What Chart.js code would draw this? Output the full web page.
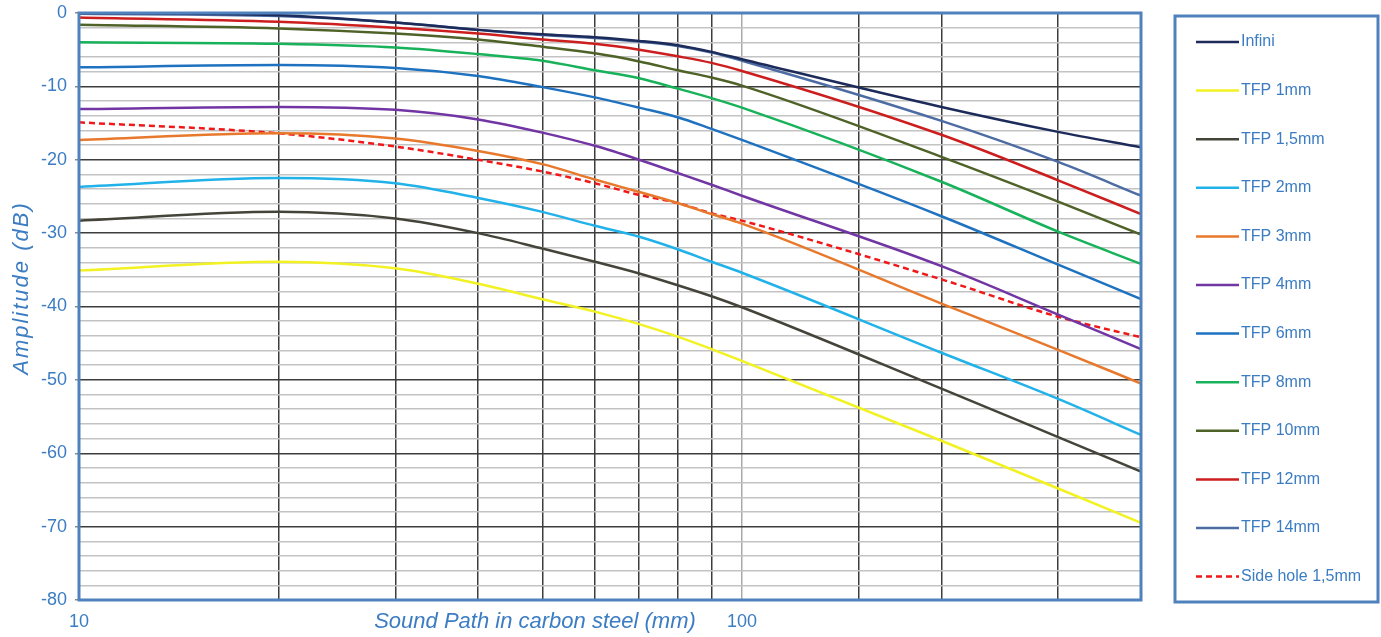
<!DOCTYPE html>
<html>
<head>
<meta charset="utf-8">
<title>Amplitude vs sound path</title>
<script src="https://cdn.jsdelivr.net/npm/chart.js@4.4.1/dist/chart.umd.min.js"></script>
<style>
  html, body { margin: 0; padding: 0; background: #fff; }
  #wrap { width: 1381px; height: 637px; position: relative; }
</style>
</head>
<body>
<div id="wrap"><canvas id="amp-chart"></canvas></div>
<script>
// ── DATA ───────────────────────────────────────
const pathMm = [10, 20, 30, 40, 50, 60, 70, 80, 90, 100, 200, 300, 400];

const infini   = [0, -0.3, -1.3, -2.3, -2.9, -3.3, -3.8, -4.4, -5.3, -6.3, -12.8, -16.2, -18.3];
const tfp1     = [-35.1, -33.9, -34.8, -36.9, -39.0, -40.7, -42.4, -44.1, -45.8, -47.4, -58.3, -64.8, -69.5];
const tfp15    = [-28.3, -27.1, -28.0, -30.0, -32.1, -33.9, -35.5, -37.1, -38.6, -40.1, -51.2, -57.8, -62.5];
const tfp2     = [-23.7, -22.5, -23.2, -25.2, -27.1, -29.0, -30.5, -32.2, -33.9, -35.4, -46.3, -52.6, -57.5];
const tfp3     = [-17.3, -16.4, -17.1, -18.8, -20.6, -22.7, -24.4, -25.9, -27.4, -28.7, -39.6, -45.9, -50.5];
const tfp4     = [-13.1, -12.8, -13.2, -14.5, -16.3, -18.1, -20.0, -21.8, -23.4, -24.9, -34.5, -41.1, -45.8];
const tfp6     = [-7.4, -7.1, -7.5, -8.6, -10.1, -11.5, -12.9, -14.2, -15.8, -17.3, -27.7, -34.3, -39.0];
const tfp8     = [-4.0, -4.2, -4.7, -5.6, -6.5, -7.8, -8.9, -10.3, -11.6, -12.9, -23.0, -29.8, -34.2];
const tfp10    = [-1.6, -2.1, -2.8, -3.6, -4.6, -5.5, -6.6, -7.8, -8.8, -9.9, -19.6, -25.7, -30.2];
const tfp12    = [-0.6, -1.2, -2.0, -2.8, -3.6, -4.2, -5.0, -5.9, -6.8, -7.9, -16.6, -22.8, -27.4];
const tfp14    = [-0.1, -0.4, -1.3, -2.3, -3.0, -3.4, -3.9, -4.5, -5.4, -6.5, -14.7, -20.3, -24.9];
const sideHole = [-14.9, -16.4, -18.2, -20.0, -21.6, -23.2, -24.8, -25.9, -27.3, -28.3, -36.3, -41.4, -44.2];

const xLabels = [10, 100];          // only these get a tick label
const yMin = -80, yMax = 0, yStep = 2;

// ── STYLE ──────────────────────────────────────
const BLUE_TXT = '#3b7cc2';
const FRAME    = '#4f81bd';
const FONT     = '"Liberation Sans", Arial, sans-serif';

const series = [
  { label: 'Infini',          data: infini,   color: '#1c2b5a' },
  { label: 'TFP 1mm',         data: tfp1,     color: '#f2f222' },
  { label: 'TFP 1,5mm',       data: tfp15,    color: '#45443a' },
  { label: 'TFP 2mm',         data: tfp2,     color: '#22b2ea' },
  { label: 'TFP 3mm',         data: tfp3,     color: '#e8792c' },
  { label: 'TFP 4mm',         data: tfp4,     color: '#7236a4' },
  { label: 'TFP 6mm',         data: tfp6,     color: '#1f72c0' },
  { label: 'TFP 8mm',         data: tfp8,     color: '#17b25a' },
  { label: 'TFP 10mm',        data: tfp10,    color: '#4f6228' },
  { label: 'TFP 12mm',        data: tfp12,    color: '#cc1e1e' },
  { label: 'TFP 14mm',        data: tfp14,    color: '#4d6ca3' },
  { label: 'Side hole 1,5mm', data: sideHole, color: '#f01818', dash: [6, 4] }
];

// ── PLUGINS ────────────────────────────────────
// blue frame round the plot area
const framePlugin = {
  id: 'frame',
  afterDatasetsDraw(chart) {
    const { ctx, chartArea: { left, top, right, bottom } } = chart;
    ctx.save();
    ctx.strokeStyle = FRAME;
    ctx.lineWidth = 3;
    ctx.strokeRect(left, top, right - left, bottom - top);
    ctx.restore();
  }
};

// axis titles, placed like the original
const titlesPlugin = {
  id: 'titles',
  afterDraw(chart) {
    const { ctx } = chart;
    ctx.save();
    ctx.fillStyle = BLUE_TXT;
    ctx.font = 'italic 22px ' + FONT;
    ctx.textAlign = 'center';
    ctx.textBaseline = 'middle';
    ctx.fillText('Sound Path in carbon steel (mm)', 535, 622);
    ctx.translate(22, 288);
    ctx.rotate(-Math.PI / 2);
    ctx.letterSpacing = '2px';
    ctx.fillText('Amplitude (dB)', 0, 0);
    ctx.restore();
  }
};

// boxed legend at the right
const legendBoxPlugin = {
  id: 'legendBox',
  afterDraw(chart) {
    const { ctx } = chart;
    const bx = 1175, by = 16, bw = 203, bh = 586;
    ctx.save();
    ctx.fillStyle = '#fff';
    ctx.fillRect(bx, by, bw, bh);
    ctx.strokeStyle = FRAME;
    ctx.lineWidth = 3;
    ctx.strokeRect(bx, by, bw, bh);
    ctx.font = '16px ' + FONT;
    ctx.textBaseline = 'middle';
    chart.data.datasets.forEach((ds, i) => {
      const y = 42 + i * 48.6;
      ctx.beginPath();
      ctx.strokeStyle = ds.borderColor;
      ctx.lineWidth = 2.5;
      ctx.setLineDash(ds.borderDash || []);
      ctx.moveTo(1196, y);
      ctx.lineTo(1239, y);
      ctx.stroke();
      ctx.setLineDash([]);
      ctx.fillStyle = BLUE_TXT;
      ctx.fillText(ds.label, 1241, y);
    });
    ctx.restore();
  }
};

// ── CHART ──────────────────────────────────────
new Chart(document.getElementById('amp-chart'), {
  type: 'line',
  data: {
    datasets: series.map(s => ({
      label: s.label,
      data: pathMm.map((x, i) => ({ x, y: s.data[i] })),
      borderColor: s.color,
      backgroundColor: s.color,
      borderWidth: 2.5,
      borderDash: s.dash || [],
      pointRadius: 0,
      cubicInterpolationMode: 'monotone',
      fill: false
    }))
  },
  options: {
    responsive: true,
    maintainAspectRatio: false,
    animation: false,
    layout: { padding: { top: 13, right: 240, left: 0, bottom: 0 } },
    plugins: { legend: { display: false }, tooltip: { enabled: false } },
    scales: {
      x: {
        type: 'logarithmic',
        min: 10, max: 400,
        afterFit(s) { s.height = 37; s.paddingLeft = 0; s.paddingRight = 0; },
        border: { display: false },
        grid: {
          drawTicks: false,
          lineWidth: 1.5,
          color: c => (c.tick && c.tick.value === 100) ? '#a9a9a9' : '#3d3d3d'
        },
        ticks: {
          autoSkip: false,
          maxRotation: 0,
          padding: 11,
          color: BLUE_TXT,
          font: { size: 18, family: FONT },
          callback: v => xLabels.includes(v) ? String(v) : ''
        }
      },
      y: {
        min: yMin, max: yMax,
        // labels at 0 / -80 may overhang; keep the plot edges fixed
        afterFit(s) { s.width = 79; s.paddingTop = 0; s.paddingBottom = 0; },
        border: { display: false },
        grid: {
          lineWidth: 1.5,
          tickLength: 4,
          color: c => (c.tick && c.tick.value % 10 === 0) ? '#3d3d3d' : '#c3c3c3',
          tickColor: c => (c.tick && c.tick.value % 10 === 0) ? '#8a8a8a' : 'rgba(0,0,0,0)'
        },
        ticks: {
          stepSize: yStep,
          autoSkip: false,
          padding: 8,
          color: BLUE_TXT,
          font: { size: 18, family: FONT },
          callback: v => v % 10 === 0 ? String(v) : ''
        }
      }
    }
  },
  plugins: [framePlugin, titlesPlugin, legendBoxPlugin]
});
</script>
</body>
</html>
